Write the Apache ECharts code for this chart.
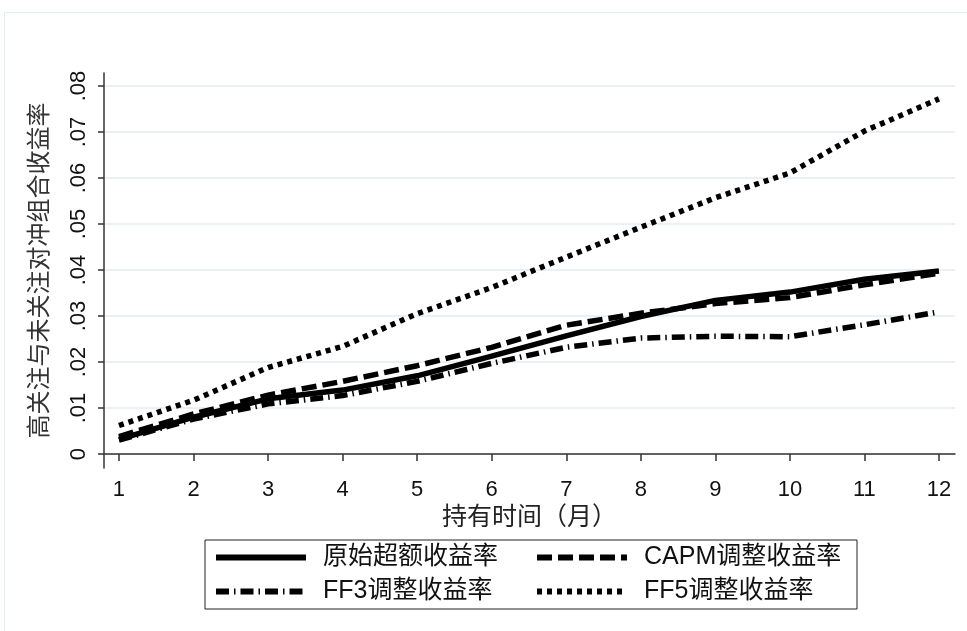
<!DOCTYPE html>
<html>
<head>
<meta charset="utf-8">
<script src="https://cdn.jsdelivr.net/npm/echarts@6/dist/echarts.min.js"></script>
<style>
  html, body { margin: 0; padding: 0; background: #fff; }
  #frame { position: absolute; left: 4px; top: 12px; right: -2px; bottom: -2px; border: 1px solid #e6edf0; }
  #chart { position: absolute; left: 0; top: 0; width: 967px; height: 631px; }
</style>
</head>
<body>
<div id="frame"></div>
<div id="chart"></div>
<script>
  // holding period (months)
  var months = [1, 2, 3, 4, 5, 6, 7, 8, 9, 10, 11, 12];
  var yTicks = [0, 0.01, 0.02, 0.03, 0.04, 0.05, 0.06, 0.07, 0.08];

  // hedged portfolio returns
  var rawExcess = [0.0032, 0.0080, 0.0120, 0.0139, 0.0170, 0.0213, 0.0257, 0.0299, 0.0334, 0.0352, 0.0380, 0.0398];
  var capmAdj   = [0.0038, 0.0087, 0.0128, 0.0158, 0.0192, 0.0232, 0.0280, 0.0306, 0.0327, 0.0340, 0.0368, 0.0393];
  var ff3Adj    = [0.0030, 0.0076, 0.0109, 0.0127, 0.0158, 0.0197, 0.0232, 0.0252, 0.0256, 0.0255, 0.0281, 0.0309];
  var ff5Adj    = [0.0062, 0.0117, 0.0188, 0.0234, 0.0305, 0.0362, 0.0428, 0.0493, 0.0557, 0.0611, 0.0702, 0.0772];

  var names = ['原始超额收益率', 'CAPM调整收益率', 'FF3调整收益率', 'FF5调整收益率'];

  var font = "'Liberation Sans', 'Noto Sans CJK SC', sans-serif";

  function pairs(arr) {
    return months.map(function (m, i) { return [m, arr[i]]; });
  }

  function makeSeries(name, arr, dash) {
    return {
      name: name,
      type: 'line',
      data: pairs(arr),
      symbol: 'none',
      smooth: false,
      lineStyle: { color: '#000', width: 5.5, type: dash, cap: 'butt' },
      itemStyle: { color: '#000' },
      emphasis: { disabled: true }
    };
  }

  var legendText = { fontFamily: font, fontSize: 25, color: '#111', padding: [0, 0, 0, 12] };
  var legendBase = {
    orient: 'vertical',
    top: 540,
    itemWidth: 90,
    itemHeight: 24,
    itemGap: 9,
    selectedMode: false,
    itemStyle: { opacity: 0 },
    lineStyle: { width: 6, color: '#000', type: 'inherit' },
    textStyle: legendText
  };

  var chart = echarts.init(document.getElementById('chart'));
  var option = {
    animation: false,
    grid: { left: 104, right: 12, top: 73, bottom: 163 },
    xAxis: {
      type: 'value',
      min: 0.799,
      max: 12.215,
      name: '持有时间（月）',
      nameLocation: 'middle',
      nameGap: 31,
      nameTextStyle: { fontFamily: font, fontSize: 25, color: '#222' },
      axisLine: { show: true, lineStyle: { color: '#333', width: 1.5 } },
      axisTick: { show: true, length: 7, customValues: months, lineStyle: { color: '#333', width: 1.5 } },
      axisLabel: { customValues: months, margin: 11, fontFamily: font, fontSize: 22, color: '#111' },
      splitLine: { show: false }
    },
    yAxis: {
      type: 'value',
      min: -0.00304,
      max: 0.08283,
      name: '高关注与未关注对冲组合收益率',
      nameLocation: 'middle',
      nameGap: 52,
      nameTextStyle: { fontFamily: font, fontSize: 24, color: '#333' },
      axisLine: { show: true, lineStyle: { color: '#333', width: 1.5 } },
      axisTick: { show: true, length: 6, customValues: yTicks, lineStyle: { color: '#333', width: 1.5 } },
      axisLabel: {
        customValues: yTicks,
        rotate: 90,
        margin: 14,
        fontFamily: font,
        fontSize: 22,
        color: '#111',
        formatter: function (v) {
          if (v === 0) return '0';
          return (Math.round(v * 100) / 100).toString().replace(/^0\./, '.');
        }
      },
      splitLine: { show: true, lineStyle: { color: '#eaf0f3', width: 2 } }
    },
    legend: [
      Object.assign({}, legendBase, {
        data: [names[0], names[2]],
        left: 205,
        padding: [5, 359, 5, 8],
        borderColor: '#222',
        borderWidth: 1
      }),
      Object.assign({}, legendBase, {
        data: [names[1], names[3]],
        left: 526,
        padding: [5, 8, 5, 8]
      })
    ],
    series: [
      makeSeries(names[0], rawExcess, 'solid'),
      makeSeries(names[1], capmAdj, [15, 6]),
      makeSeries(names[2], ff3Adj, [13, 5, 1.5, 5]),
      makeSeries(names[3], ff5Adj, [5, 5])
    ]
  };
  chart.setOption(option);
</script>
</body>
</html>
